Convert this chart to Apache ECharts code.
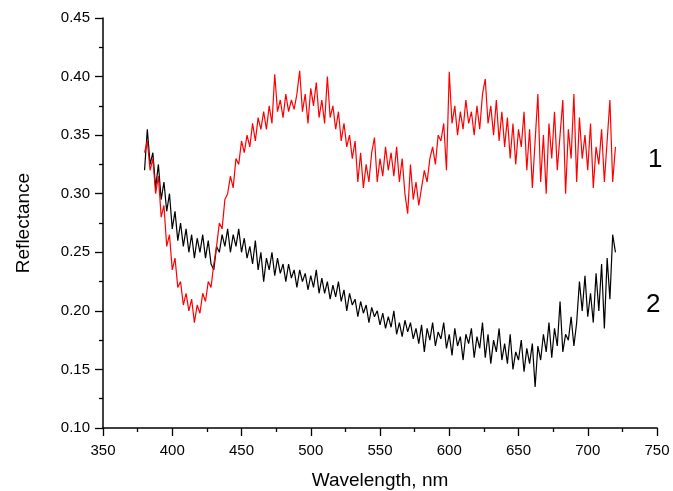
<!DOCTYPE html>
<html>
<head>
<meta charset="utf-8">
<script src="https://cdn.jsdelivr.net/npm/echarts@6/dist/echarts.min.js"></script>
<style>html,body{margin:0;padding:0;background:#fff}#c{width:673px;height:491px}</style>
</head>
<body>
<div id="c"></div>
<script>
// Sampling grid of the spectra (nm)
const waveStart = 380;
const waveStep = 2;

// Curve 1 (red), 380..720 nm
const curve1 = [
  0.335,0.345,0.32,0.33,0.30,0.315,0.28,0.29,0.255,0.265,
  0.235,0.245,0.22,0.225,0.205,0.215,0.2,0.21,0.19,0.205,
  0.198,0.215,0.208,0.225,0.22,0.24,0.255,0.275,0.27,0.295,
  0.3,0.315,0.305,0.33,0.325,0.345,0.335,0.35,0.34,0.36,
  0.345,0.365,0.355,0.37,0.355,0.375,0.36,0.402,0.37,0.38,
  0.365,0.385,0.37,0.38,0.372,0.385,0.405,0.37,0.385,0.36,
  0.39,0.375,0.395,0.365,0.38,0.36,0.4,0.365,0.375,0.355,
  0.37,0.345,0.36,0.34,0.35,0.33,0.345,0.31,0.335,0.305,
  0.325,0.31,0.335,0.348,0.31,0.33,0.315,0.34,0.32,0.335,
  0.315,0.34,0.31,0.33,0.3,0.283,0.325,0.295,0.31,0.29,
  0.305,0.32,0.31,0.33,0.34,0.325,0.35,0.345,0.36,0.32,
  0.404,0.36,0.375,0.35,0.37,0.355,0.38,0.36,0.37,0.35,
  0.375,0.355,0.385,0.398,0.36,0.375,0.35,0.38,0.345,0.37,
  0.34,0.365,0.33,0.36,0.325,0.355,0.34,0.37,0.32,0.355,
  0.305,0.345,0.385,0.31,0.35,0.3,0.36,0.33,0.37,0.32,
  0.35,0.38,0.3,0.355,0.33,0.385,0.31,0.365,0.33,0.35,
  0.32,0.36,0.305,0.34,0.325,0.355,0.31,0.345,0.38,0.31,
  0.34
];

// Curve 2 (black), 380..720 nm
const curve2 = [
  0.32,0.355,0.325,0.335,0.305,0.325,0.295,0.31,0.285,0.3,
  0.27,0.285,0.26,0.275,0.255,0.27,0.25,0.265,0.245,0.262,
  0.25,0.265,0.245,0.26,0.24,0.235,0.255,0.25,0.265,0.255,
  0.27,0.25,0.265,0.255,0.27,0.25,0.262,0.245,0.255,0.24,
  0.26,0.235,0.25,0.225,0.245,0.235,0.25,0.23,0.245,0.232,
  0.24,0.225,0.24,0.228,0.235,0.22,0.235,0.225,0.232,0.218,
  0.23,0.22,0.235,0.215,0.228,0.215,0.225,0.21,0.222,0.212,
  0.225,0.208,0.218,0.2,0.215,0.205,0.21,0.195,0.208,0.198,
  0.205,0.19,0.203,0.195,0.2,0.188,0.198,0.185,0.195,0.186,
  0.2,0.18,0.19,0.178,0.192,0.182,0.19,0.176,0.185,0.172,
  0.188,0.165,0.185,0.175,0.19,0.17,0.182,0.176,0.19,0.168,
  0.18,0.162,0.185,0.17,0.178,0.158,0.18,0.172,0.185,0.16,
  0.178,0.168,0.19,0.16,0.18,0.155,0.175,0.165,0.185,0.158,
  0.172,0.155,0.18,0.15,0.165,0.158,0.175,0.148,0.168,0.155,
  0.172,0.135,0.17,0.158,0.18,0.165,0.19,0.16,0.185,0.17,
  0.208,0.165,0.18,0.175,0.195,0.17,0.19,0.225,0.2,0.23,
  0.195,0.215,0.19,0.232,0.2,0.24,0.185,0.245,0.21,0.265,
  0.25
];

const xTicks = [350,400,450,500,550,600,650,700,750];
const yTicks = [0.10,0.15,0.20,0.25,0.30,0.35,0.40,0.45];
const curveLabels = ['1','2'];

const pairs = arr => arr.map((v,i)=>[waveStart + i*waveStep, v]);

const FONT = 'Liberation Sans, Arial, sans-serif';
const chart = echarts.init(document.getElementById('c'), null, {renderer:'canvas'});
chart.setOption({
  animation:false,
  backgroundColor:'#fff',
  grid:{left:103, right:16, top:18, bottom:63, outerBoundsMode:'none', containLabel:false},
  xAxis:{
    type:'value', min:xTicks[0], max:xTicks[xTicks.length-1], interval:50,
    name:'Wavelength, nm', nameLocation:'middle', nameGap:43,
    nameTextStyle:{fontFamily:FONT, fontSize:19, color:'#000'},
    axisLine:{show:true, onZero:false, lineStyle:{color:'#000', width:1.5}},
    axisTick:{show:true, inside:false, length:8, lineStyle:{color:'#000', width:1.3}},
    minorTick:{show:true, splitNumber:2, length:4, lineStyle:{color:'#000', width:1.3}},
    axisLabel:{fontFamily:FONT, fontSize:15, color:'#000', margin:15},
    splitLine:{show:false}
  },
  yAxis:{
    type:'value', min:yTicks[0], max:yTicks[yTicks.length-1], interval:0.05,
    name:'Reflectance', nameLocation:'middle', nameGap:70, nameRotate:90,
    nameTextStyle:{fontFamily:FONT, fontSize:19, color:'#000'},
    axisLine:{show:true, onZero:false, lineStyle:{color:'#000', width:1.5}},
    axisTick:{show:true, inside:false, length:8, lineStyle:{color:'#000', width:1.3}},
    minorTick:{show:true, splitNumber:2, length:4, lineStyle:{color:'#000', width:1.3}},
    axisLabel:{fontFamily:FONT, fontSize:15, color:'#000', margin:13, formatter:v=>v.toFixed(2)},
    splitLine:{show:false}
  },
  series:[
    {type:'line', data:pairs(curve2), showSymbol:false, symbol:'none',
     lineStyle:{color:'#000', width:1.2}, z:2},
    {type:'line', data:pairs(curve1), showSymbol:false, symbol:'none',
     lineStyle:{color:'#ff0000', width:1.2}, z:3}
  ],
  graphic:[
    {type:'text', left:648, top:147, style:{text:curveLabels[0], font:'26px '+FONT, fill:'#000'}},
    {type:'text', left:646, top:292, style:{text:curveLabels[1], font:'26px '+FONT, fill:'#000'}}
  ]
});
</script>
</body>
</html>
